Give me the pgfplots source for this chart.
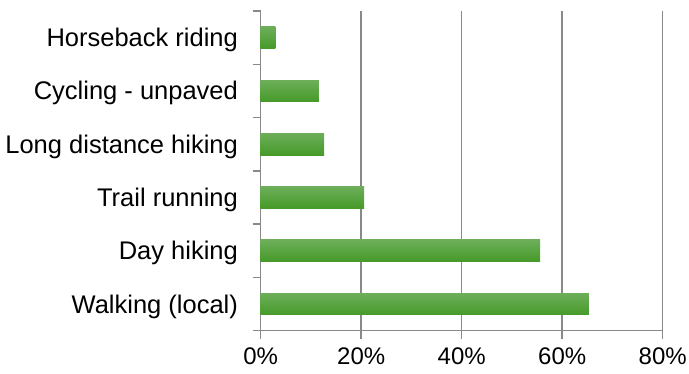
\documentclass[border=0pt]{standalone}
\usepackage{fontspec}
\setmainfont{Liberation Sans}
\usepackage{pgfplots}
\pgfplotsset{compat=1.18}
\definecolor{axgray}{HTML}{898989}
\definecolor{bartop}{HTML}{6DAE5A}
\definecolor{barbot}{HTML}{469A28}
\begin{document}
\begin{tikzpicture}
\useasboundingbox (-260.7pt,-43.3pt) rectangle (428.3pt,330.7pt);
\begin{axis}[
  at={(0,0)}, anchor=south west,
  scale only axis, width=402pt, height=319.7pt,
  xmin=0, xmax=80, ymin=-0.5, ymax=5.5,
  axis lines=left,
  axis line style={-, draw=axgray, line width=1.5pt},
  xtick={0,20,40,60,80},
  xticklabel={\pgfmathprintnumber{\tick}\%},
  /pgf/number format/assume math mode=true,
  xmajorgrids,
  grid style={draw=axgray, line width=1.5pt},
  tick align=outside,
  major tick length=8pt,
  tick style={draw=axgray, line width=1.5pt},
  ytick={-0.5,0.5,1.5,2.5,3.5,4.5,5.5},
  yticklabels={},
  extra y ticks={0,1,2,3,4,5},
  extra y tick labels={Walking (local),Day hiking,Trail running,Long distance hiking,Cycling - unpaved,Horseback riding},
  extra y tick style={major tick length=0pt, grid=none},
  xticklabel style={font=\fontsize{24}{28}\selectfont, anchor=north, inner sep=0pt, yshift=-9pt},
  yticklabel style={font=\fontsize{25.5}{30}\selectfont, anchor=east, inner sep=0pt, text height=18pt, text depth=0pt, xshift=-22.6pt},
  clip=false,
  no markers,
  every axis plot post/.append style={xbar, bar width=21.7pt, bar shift=0pt, draw=none, mark=none, top color=bartop, bottom color=barbot},
]
\addplot coordinates {(65.3,0)};
\addplot coordinates {(55.6,1)};
\addplot coordinates {(20.6,2)};
\addplot coordinates {(12.6,3)};
\addplot coordinates {(11.6,4)};
\addplot coordinates {(2.9,5)};
\end{axis}
\end{tikzpicture}
\end{document}
